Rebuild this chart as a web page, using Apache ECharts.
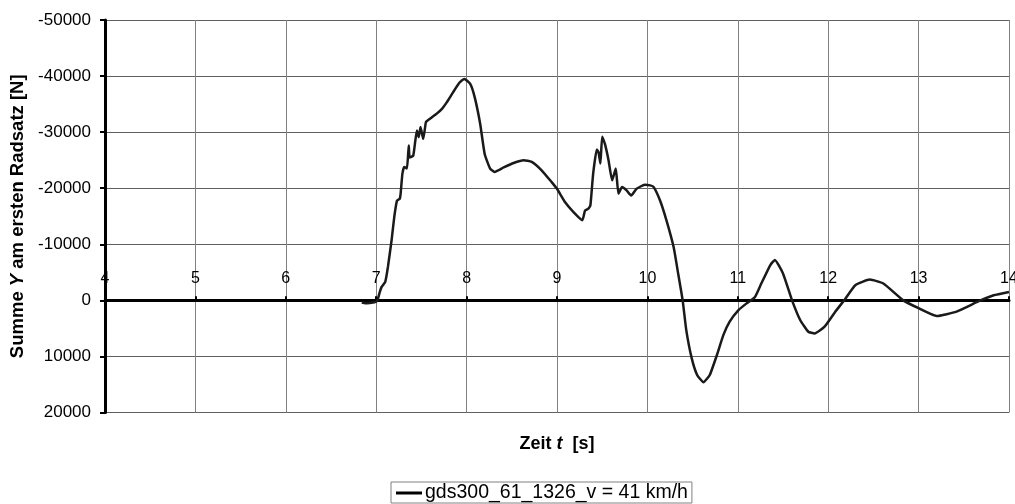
<!DOCTYPE html>
<html>
<head>
<meta charset="utf-8">
<script src="https://cdn.jsdelivr.net/npm/echarts@6/dist/echarts.min.js"></script>
<style>
html,body{margin:0;padding:0;background:#fff;}
#chart{width:1015px;height:504px;}
</style>
</head>
<body>
<div id="chart"></div>
<script>
// time [s]
const timeValues = [
  6.84, 6.88, 6.93, 6.98, 7.01, 7.02, 7.04, 7.06, 7.10, 7.13,
  7.17, 7.20, 7.23, 7.26, 7.27, 7.29, 7.31, 7.34, 7.36, 7.37,
  7.41, 7.45, 7.47, 7.49, 7.52, 7.55, 7.57, 7.62, 7.67, 7.73,
  7.78, 7.85, 7.92, 7.975, 8.04, 8.09, 8.15, 8.20, 8.26, 8.31,
  8.41, 8.52, 8.63, 8.72, 8.83, 8.94, 9.00, 9.09, 9.18, 9.28,
  9.31, 9.35, 9.37, 9.40, 9.44, 9.46, 9.48, 9.50, 9.53, 9.57,
  9.61, 9.65, 9.68, 9.72, 9.77, 9.82, 9.88, 9.97, 10.03, 10.07,
  10.14, 10.21, 10.29, 10.34, 10.39, 10.43, 10.49, 10.55, 10.62, 10.69,
  10.77, 10.84, 10.91, 11.01, 11.10, 11.19, 11.26, 11.36, 11.41, 11.50,
  11.60, 11.69, 11.78, 11.85, 11.96, 12.08, 12.19, 12.30, 12.46, 12.61,
  12.83, 13.00, 13.20, 13.42, 13.66, 13.83, 14.00
];
// Summe Y am ersten Radsatz [N]
const forceValues = [
  400, 500, 450, 350, 100, -350, -1500, -2400, -3300, -6000,
  -10700, -14900, -17800, -18100, -19000, -22600, -23800, -23500, -27600, -25500,
  -25800, -30300, -29100, -30900, -28800, -31800, -32100, -32700, -33300, -34200,
  -35300, -37100, -38800, -39500, -38600, -36200, -31500, -26100, -23500, -22900,
  -23700, -24500, -25000, -24700, -23200, -21100, -19900, -17500, -15800, -14300,
  -16000, -16400, -17000, -22600, -26900, -26400, -24400, -29200, -27900, -25000,
  -21400, -23500, -19000, -20200, -19600, -18700, -19900, -20600, -20500, -20200,
  -17800, -14300, -9500, -4800, 0, 5300, 10300, 13300, 14600, 13300,
  9700, 6200, 3800, 1700, 500, -600, -3000, -6300, -7200, -4800,
  0, 3500, 5600, 5900, 4700, 2000, -300, -2700, -3700, -3000,
  0, 1400, 2800, 2000, 200, -900, -1500
];
const seriesName = 'gds300_61_1326_v = 41 km/h';
const xMin = 4, xMax = 14, xStep = 1;
const yMin = -50000, yMax = 20000, yStep = 10000;

const font = '"Liberation Sans", Arial, sans-serif';
const gridTop = 20, gridBottom = 91.5;
const chartHeight = 504;
// pixel row of y = 0 inside the grid (used to place the x axis on the zero line)
const plotH = chartHeight - gridTop - gridBottom;
const zeroOffset = -plotH * (0 - yMin) / (yMax - yMin);

const chart = echarts.init(document.getElementById('chart'), null, {renderer: 'canvas'});
chart.setOption({
  animation: false,
  backgroundColor: '#ffffff',
  textStyle: {fontFamily: font, color: '#000'},
  grid: {left: 105, right: 6, top: gridTop, bottom: gridBottom, containLabel: false, outerBoundsMode: 'none'},
  legend: {
    show: true,
    left: 391, top: 482,
    icon: 'rect', itemWidth: 26, itemHeight: 3, itemGap: 4,
    padding: [1, 4, 0, 5],
    borderColor: '#808080', borderWidth: 1,
    textStyle: {fontFamily: font, fontSize: 19.5, color: '#000', padding: [0, 0, 0, -2]},
    data: [seriesName]
  },
  xAxis: {
    type: 'value', min: xMin, max: xMax, interval: xStep,
    position: 'top', offset: zeroOffset,
    name: '{b|Zeit }{bi|t}{b|  [s]}',
    nameLocation: 'middle', nameGap: -153,
    nameTextStyle: {
      rich: {
        b: {fontFamily: font, fontWeight: 'bold', fontSize: 18, color: '#000'},
        bi: {fontFamily: font, fontWeight: 'bold', fontStyle: 'italic', fontSize: 18, color: '#000'}
      }
    },
    axisLine: {show: true, onZero: false, lineStyle: {color: '#000', width: 3}},
    axisTick: {show: true, inside: false, length: 4, lineStyle: {color: '#000', width: 2}},
    axisLabel: {margin: 14, fontFamily: font, fontSize: 16, color: '#000',
      formatter: v => String(v)},
    splitLine: {show: true, lineStyle: {color: '#808080', width: 1}}
  },
  yAxis: {
    type: 'value', min: yMin, max: yMax, interval: yStep, inverse: true,
    name: '{b|Summe }{bi|Y}{b| am ersten Radsatz [N]}',
    nameLocation: 'middle', nameGap: 75, nameRotate: 90,
    nameTextStyle: {
      rich: {
        b: {fontFamily: font, fontWeight: 'bold', fontSize: 18.5, color: '#000'},
        bi: {fontFamily: font, fontWeight: 'bold', fontStyle: 'italic', fontSize: 18.5, color: '#000'}
      }
    },
    axisLine: {show: true, lineStyle: {color: '#000', width: 3}},
    axisTick: {show: true, inside: false, length: 5, lineStyle: {color: '#000', width: 2}},
    axisLabel: {margin: 14, fontFamily: font, fontSize: 17, color: '#000',
      formatter: v => String(v)},
    splitLine: {show: true, lineStyle: {color: '#606060', width: 1}}
  },
  series: [{
    name: seriesName,
    type: 'line',
    data: timeValues.map((t, i) => [t, forceValues[i]]),
    showSymbol: false,
    smooth: 0.15,
    lineStyle: {color: '#1a1a1a', width: 2.5},
    itemStyle: {color: '#000'},
    z: 5
  }]
});
</script>
</body>
</html>
